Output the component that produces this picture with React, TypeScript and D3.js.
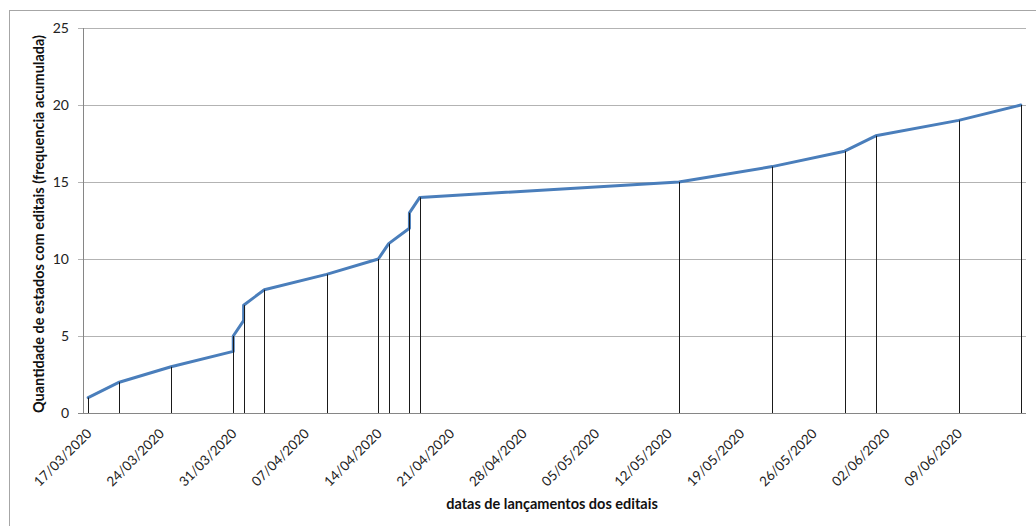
import React from "react";
import * as d3 from "d3";

const pointDates: string[] = [
  "2020-03-17", "2020-03-20", "2020-03-25", "2020-03-31", "2020-03-31",
  "2020-04-01", "2020-04-01", "2020-04-03", "2020-04-09", "2020-04-14",
  "2020-04-15", "2020-04-17", "2020-04-17", "2020-04-18", "2020-05-13",
  "2020-05-22", "2020-05-29", "2020-06-01", "2020-06-09", "2020-06-15",
];
const cumulative: number[] = [1, 2, 3, 4, 5, 6, 7, 8, 9, 10, 11, 12, 13, 14, 15, 16, 17, 18, 19, 20];
const tickDates: string[] = [
  "2020-03-17", "2020-03-24", "2020-03-31", "2020-04-07", "2020-04-14",
  "2020-04-21", "2020-04-28", "2020-05-05", "2020-05-12", "2020-05-19",
  "2020-05-26", "2020-06-02", "2020-06-09",
];
const yTicks: number[] = [0, 5, 10, 15, 20, 25];
const axisStart = "2020-03-17";
const axisEnd = "2020-06-16";
const xTitle = "datas de lançamentos dos editais";
const yTitle = "Quantidade de estados com editais (frequencia acumulada)";

const W = 1036;
const H = 526;
const M = { left: 83, right: 1026, top: 28, bottom: 413 };
const FONT = "Lato, 'Noto Sans', sans-serif";

const parse = d3.utcParse("%Y-%m-%d");
const fmt = d3.utcFormat("%d/%m/%Y");
const HALF_DAY = 12 * 3600 * 1000;

export default function App() {
  const x = d3.scaleUtc()
    .domain([parse(axisStart)!, parse(axisEnd)!])
    .range([M.left, M.right]);
  const y = d3.scaleLinear().domain([0, 25]).range([M.bottom, M.top]);
  const cx = (s: string) => x(new Date(parse(s)!.getTime() + HALF_DAY));

  const pts: [number, number][] = pointDates.map((d, i) => [cx(d), y(cumulative[i])]);
  const line = d3.line<[number, number]>().x((p) => p[0]).y((p) => p[1]);

  return (
    <svg width={W} height={H} style={{ position: "absolute", left: 0, top: 0, background: "#fff" }}>
      <rect x={9.5} y={10.5} width={W + 20} height={H + 20} fill="#fff" stroke="#a6a6a6" strokeWidth={1} />
      {yTicks.map((t) => (
        <g key={t}>
          <line x1={M.left - 5} x2={M.right} y1={Math.round(y(t)) + 0.5} y2={Math.round(y(t)) + 0.5}
            stroke={t === 0 ? "#868686" : "#b3b3b3"} strokeWidth={1} />
          <text x={69} y={y(t)} dy="0.35em" textAnchor="end" fontFamily={FONT} fontSize={14} fill="#222">{t}</text>
        </g>
      ))}
      <line x1={M.left + 0.5} x2={M.left + 0.5} y1={M.top} y2={M.bottom} stroke="#868686" strokeWidth={1} />
      <path d={line(pts) || ""} fill="none" stroke="#4a7ebb" strokeWidth={3} strokeLinejoin="round" strokeLinecap="round" />
      {pts.map((p, i) => (
        <line key={i} x1={Math.round(p[0]) + 0.5} x2={Math.round(p[0]) + 0.5} y1={p[1]} y2={M.bottom}
          stroke="#1a1a1a" strokeWidth={1} />
      ))}
      {tickDates.map((d) => {
        const tx = cx(d);
        return (
          <text key={d} transform={`translate(${tx + 1},${M.bottom + 18}) rotate(-45)`} textAnchor="end"
            dy="0.35em" fontFamily={FONT} fontSize={13.5} fill="#222">{fmt(parse(d)!)}</text>
        );
      })}
      <text x={552} y={509} textAnchor="middle" fontFamily={FONT} fontSize={14.5} fontWeight="bold" fill="#111">{xTitle}</text>
      <text transform={`translate(44,224) rotate(-90)`} textAnchor="middle" fontFamily={FONT} fontSize={14.5}
        fontWeight="bold" fill="#111">{yTitle}</text>
    </svg>
  );
}
